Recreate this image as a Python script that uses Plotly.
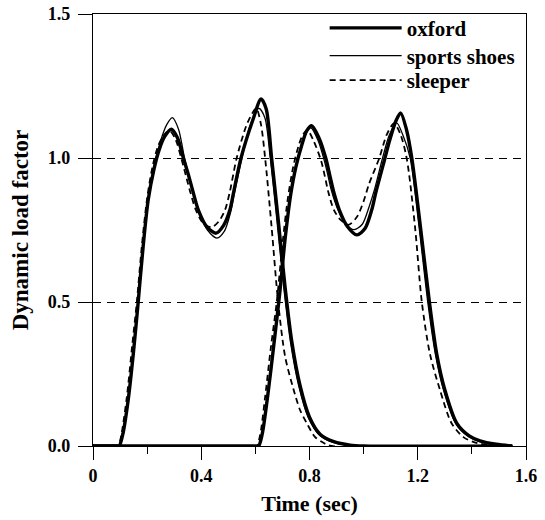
import plotly.graph_objects as go

# ---------------- data ----------------
# Step 1 (first footstep)
oxford_t1 = [0.0, 0.09, 0.097, 0.11, 0.13, 0.15, 0.167, 0.185, 0.204, 0.225, 0.245, 0.265, 0.29,
             0.312, 0.334, 0.353, 0.371, 0.389, 0.42, 0.455, 0.482, 0.506, 0.519, 0.547, 0.59, 0.621,
             0.64, 0.66, 0.685, 0.71, 0.735, 0.765, 0.80, 0.84, 0.89, 0.95, 1.0, 1.55]
oxford_v1 = [0.0, 0.0, 0.0, 0.04, 0.16, 0.33, 0.5, 0.69, 0.855, 0.96, 1.03, 1.075, 1.10,
             1.07, 1.0, 0.94, 0.878, 0.82, 0.762, 0.739, 0.765, 0.82, 0.878, 1.0, 1.13, 1.205,
             1.17, 1.0, 0.78, 0.55, 0.36, 0.21, 0.10, 0.04, 0.015, 0.003, 0.0, 0.0]

sports_t1 = [0.0, 0.09, 0.097, 0.11, 0.13, 0.15, 0.167, 0.185, 0.204, 0.225, 0.25, 0.272, 0.293,
             0.316, 0.338, 0.356, 0.373, 0.392, 0.423, 0.458, 0.485, 0.508, 0.521, 0.548, 0.58, 0.613,
             0.635, 0.655, 0.68, 0.705, 0.73, 0.76, 0.795, 0.835, 0.885, 0.95, 1.0, 1.55]
sports_v1 = [0.0, 0.0, 0.0, 0.04, 0.16, 0.33, 0.5, 0.69, 0.855, 0.97, 1.06, 1.115, 1.14,
             1.10, 1.0, 0.93, 0.87, 0.81, 0.75, 0.722, 0.745, 0.81, 0.87, 0.99, 1.11, 1.172,
             1.14, 1.0, 0.78, 0.55, 0.36, 0.21, 0.10, 0.04, 0.013, 0.002, 0.0, 0.0]

sleeper_t1 = [0.0, 0.088, 0.094, 0.105, 0.125, 0.145, 0.162, 0.18, 0.20, 0.22, 0.24, 0.262, 0.283,
              0.305, 0.326, 0.343, 0.36, 0.38, 0.41, 0.439, 0.465, 0.488, 0.505, 0.531, 0.57, 0.603,
              0.62, 0.636, 0.66, 0.684, 0.71, 0.74, 0.765, 0.79, 0.82, 0.85, 0.88, 1.55]
sleeper_v1 = [0.0, 0.0, 0.0, 0.04, 0.17, 0.35, 0.5, 0.69, 0.86, 0.97, 1.04, 1.08, 1.095,
              1.065, 1.0, 0.94, 0.88, 0.82, 0.77, 0.76, 0.78, 0.82, 0.88, 1.0, 1.12, 1.172,
              1.12, 1.0, 0.76, 0.5, 0.31, 0.2, 0.125, 0.079, 0.032, 0.012, 0.0, 0.0]

# Step 2 (second footstep)
oxford_t2 = [0.0, 0.6, 0.612, 0.625, 0.645, 0.668, 0.69, 0.71, 0.73, 0.75, 0.77, 0.79, 0.808,
             0.835, 0.86, 0.875, 0.89, 0.91, 0.94, 0.975, 1.005, 1.03, 1.045, 1.079, 1.097, 1.12,
             1.137, 1.158, 1.178, 1.21, 1.243, 1.27, 1.30, 1.344, 1.39, 1.43, 1.49, 1.547]
oxford_v2 = [0.0, 0.0, 0.0, 0.04, 0.17, 0.35, 0.53, 0.72, 0.87, 0.97, 1.04, 1.095, 1.112,
             1.07, 1.0, 0.94, 0.88, 0.82, 0.762, 0.733, 0.755, 0.82, 0.88, 1.0, 1.064, 1.13,
             1.156, 1.1, 1.0, 0.76, 0.5, 0.32, 0.195, 0.079, 0.035, 0.018, 0.006, 0.0]

sports_t2 = [0.0, 0.6, 0.612, 0.625, 0.645, 0.668, 0.69, 0.71, 0.73, 0.75, 0.77, 0.79, 0.805,
             0.832, 0.855, 0.868, 0.88, 0.905, 0.93, 0.965, 0.995, 1.02, 1.04, 1.07, 1.095, 1.122,
             1.145, 1.172, 1.205, 1.237, 1.265, 1.295, 1.34, 1.385, 1.43, 1.49, 1.547]
sports_v2 = [0.0, 0.0, 0.0, 0.04, 0.17, 0.35, 0.53, 0.72, 0.87, 0.97, 1.04, 1.09, 1.105,
             1.06, 0.99, 0.94, 0.89, 0.82, 0.775, 0.751, 0.77, 0.83, 0.89, 1.0, 1.08, 1.122,
             1.08, 1.0, 0.76, 0.5, 0.32, 0.195, 0.079, 0.035, 0.015, 0.004, 0.0]

sleeper_t2 = [0.0, 0.595, 0.605, 0.618, 0.636, 0.657, 0.679, 0.70, 0.72, 0.74, 0.759, 0.775, 0.792,
              0.815, 0.843, 0.857, 0.87, 0.89, 0.915, 0.944, 0.975, 1.0, 1.02, 1.058, 1.085, 1.112,
              1.135, 1.159, 1.19, 1.215, 1.245, 1.282, 1.325, 1.37, 1.42, 1.5]
sleeper_v2 = [0.0, 0.0, 0.0, 0.04, 0.17, 0.34, 0.5, 0.70, 0.86, 0.97, 1.04, 1.08, 1.097,
              1.06, 0.99, 0.935, 0.88, 0.82, 0.785, 0.768, 0.795, 0.85, 0.91, 1.0, 1.08, 1.12,
              1.085, 1.0, 0.76, 0.5, 0.32, 0.195, 0.079, 0.03, 0.01, 0.0]

series_names = ["oxford", "sports shoes", "sleeper"]
x_tick_vals = [0, 0.4, 0.8, 1.2, 1.6]
x_tick_text = ["0", "0.4", "0.8", "1.2", "1.6"]
y_tick_vals = [0.0, 0.5, 1.0, 1.5]
y_tick_text = ["0.0", "0.5", "1.0", "1.5"]

# ---------------- figure ----------------
FONT = "Liberation Serif"
styles = {
    "oxford": dict(color="black", width=3.4, dash="solid"),
    "sports shoes": dict(color="black", width=1.3, dash="solid"),
    "sleeper": dict(color="black", width=1.8, dash="6px,4px"),
}
data = {
    "oxford": [(oxford_t1, oxford_v1), (oxford_t2, oxford_v2)],
    "sports shoes": [(sports_t1, sports_v1), (sports_t2, sports_v2)],
    "sleeper": [(sleeper_t1, sleeper_v1), (sleeper_t2, sleeper_v2)],
}
legend_ids = {"oxford": "legend", "sports shoes": "legend2", "sleeper": "legend3"}
legend_rows = {"legend": 0.967, "legend2": 0.903, "legend3": 0.846}

fig = go.Figure()
for name in series_names:
    for i, (t, v) in enumerate(data[name]):
        fig.add_trace(go.Scatter(
            x=t, y=v, mode="lines", name=name, legendgroup=name,
            legend=legend_ids[name], showlegend=(i == 0),
            line=dict(shape="spline", smoothing=0.8, **styles[name]),
        ))

legend_font = dict(family=FONT, size=21, color="black", weight="bold")
legend_common = dict(x=0.535, xanchor="left", yanchor="middle",
                     bgcolor="rgba(0,0,0,0)", borderwidth=0,
                     font=legend_font, itemwidth=72)

fig.update_layout(
    template="none",
    width=545, height=520,
    margin=dict(l=93, r=19, t=14, b=74, autoexpand=False),
    paper_bgcolor="white", plot_bgcolor="white",
    font=dict(family=FONT, color="black"),
    showlegend=True,
    legend=dict(y=legend_rows["legend"], **legend_common),
    legend2=dict(y=legend_rows["legend2"], **legend_common),
    legend3=dict(y=legend_rows["legend3"], **legend_common),
    xaxis=dict(
        range=[0, 1.6], tickvals=x_tick_vals, ticktext=x_tick_text, automargin=False,
        ticks="outside", ticklen=13, tickwidth=1.2, tickcolor="black",
        minor=dict(dtick=0.2, tick0=0, ticks="outside", ticklen=7, tickwidth=1.2, tickcolor="black", showgrid=False),
        showline=True, linecolor="black", linewidth=1.3, mirror=True,
        showgrid=False, zeroline=False,
        tickfont=dict(family=FONT, size=18, color="black", weight="bold"),
        title=dict(text="Time (sec)", font=dict(family=FONT, size=22, color="black", weight="bold"), standoff=10),
    ),
    yaxis=dict(
        range=[0, 1.5], tickvals=y_tick_vals, ticktext=y_tick_text, automargin=False,
        ticks="outside", ticklen=14, tickwidth=1.2, tickcolor="black",
        showline=True, linecolor="black", linewidth=1.3, mirror=True,
        showgrid=True, gridcolor="black", gridwidth=1, griddash="8px,6px",
        zeroline=False, ticklabelstandoff=4,
        tickfont=dict(family=FONT, size=18, color="black", weight="bold"),
        title=dict(text="Dynamic load factor", font=dict(family=FONT, size=23, color="black", weight="bold"), standoff=12),
    ),
)

fig.write_html("out.html")
